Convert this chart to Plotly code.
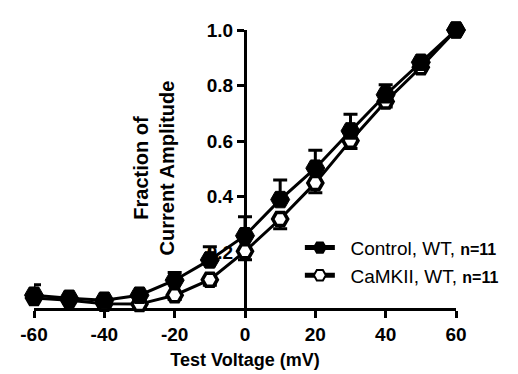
import plotly.graph_objects as go

voltage = [-60, -50, -40, -30, -20, -10, 0, 10, 20, 30, 40, 50, 60]
control = [0.046, 0.035, 0.028, 0.046, 0.10, 0.173, 0.26, 0.39, 0.503, 0.637, 0.767, 0.884, 1.0]
control_err = [0.038, 0.01, 0.01, 0.012, 0.028, 0.047, 0.068, 0.07, 0.064, 0.06, 0.036, 0.01, 0.0]
camkii = [0.036, 0.028, 0.015, 0.014, 0.046, 0.102, 0.204, 0.32, 0.45, 0.602, 0.743, 0.866, 1.0]
camkii_err = [0.01, 0.01, 0.01, 0.01, 0.015, 0.02, 0.03, 0.035, 0.035, 0.028, 0.02, 0.01, 0.0]
zeros = [0.0] * len(voltage)

x_ticks = [-60, -40, -20, 0, 20, 40, 60]
x_ticktext = ["-60", "-40", "-20", "0", "20", "40", "60"]
y_ticks = [0.2, 0.4, 0.6, 0.8, 1.0]
y_ticktext = ["0.2", "0.4", "0.6", "0.8", "1.0"]

FONT = "Arial, Liberation Sans, sans-serif"

fig = go.Figure()
fig.add_trace(go.Scatter(
    x=voltage, y=camkii, mode="lines+markers",
    name="&nbsp;&nbsp;CaMKII, WT, <span style='font-size:16px'><b>n=11</b></span>",
    line=dict(color="black", width=3),
    marker=dict(symbol="hexagon2", size=15, color="white", line=dict(color="black", width=3.5)),
    error_y=dict(type="data", symmetric=False, array=zeros, arrayminus=camkii_err,
                 color="black", thickness=3, width=7),
    cliponaxis=False,
))
fig.add_trace(go.Scatter(
    x=voltage, y=control, mode="lines+markers",
    name="&nbsp;&nbsp;Control, WT, <span style='font-size:16px'><b>n=11</b></span>",
    line=dict(color="black", width=3),
    marker=dict(symbol="hexagon2", size=19, color="black", line=dict(color="black", width=1)),
    error_y=dict(type="data", symmetric=False, array=control_err, arrayminus=zeros,
                 color="black", thickness=3, width=7),
    cliponaxis=False,
))

fig.update_layout(
    width=518, height=374,
    margin=dict(l=24, r=70, t=15, b=74),
    paper_bgcolor="white", plot_bgcolor="white",
    font=dict(family=FONT, color="black", size=19),
    showlegend=True,
    legend=dict(x=0.63, y=0.285, xanchor="left", yanchor="top",
                traceorder="reversed", itemsizing="constant",
                font=dict(size=19, family=FONT), bgcolor="rgba(0,0,0,0)",
                tracegroupgap=0),
    xaxis=dict(range=[-60, 60], tickvals=x_ticks, ticktext=x_ticktext,
               showline=True, linecolor="black", linewidth=3, ticks="outside",
               ticklen=7, tickwidth=3, tickcolor="black", showgrid=False, zeroline=False,
               tickfont=dict(size=19, family=FONT, weight="bold"),
               title=dict(text="<b>Test Voltage (mV)</b>", font=dict(size=18, family=FONT), standoff=10),
               layer="below traces"),
    yaxis=dict(range=[0, 1], tickvals=y_ticks, ticktext=y_ticktext,
               anchor="free", position=0.5,
               showline=True, linecolor="black", linewidth=3, ticks="outside",
               ticklen=7, tickwidth=3, tickcolor="black", showgrid=False, zeroline=False,
               tickfont=dict(size=19, family=FONT, weight="bold"),
               layer="below traces"),
    annotations=[dict(
        text="<b>Fraction of<br>Current Amplitude</b>", textangle=-90,
        xref="paper", yref="paper", x=0.284, y=0.505, xanchor="center", yanchor="middle",
        showarrow=False, font=dict(size=20, family=FONT))],
)

fig.write_html("out.html")
